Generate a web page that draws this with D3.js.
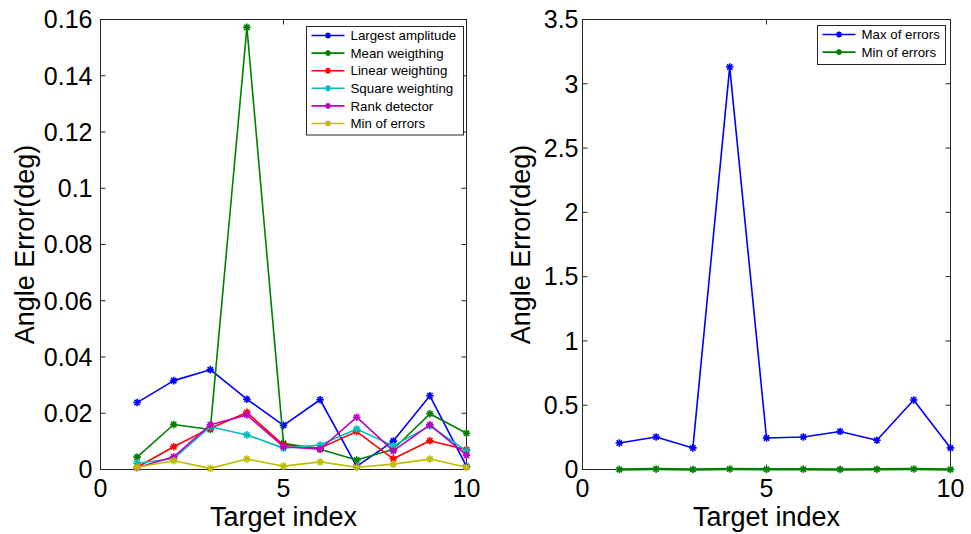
<!DOCTYPE html>
<html><head><meta charset="utf-8">
<script src="https://cdn.jsdelivr.net/npm/d3@7/dist/d3.min.js"></script>
<style>body{margin:0;background:#fff}svg{display:block}text{font-family:"Liberation Sans",Arial,sans-serif}</style>
</head><body>
<script>
const targetIndex = [1,2,3,4,5,6,7,8,9,10];
const largestAmplitude = [0.0238,0.0316,0.0355,0.0250,0.0157,0.0248,0.0011,0.0101,0.0262,0.0011];
const meanWeighting   = [0.0044,0.0160,0.0142,0.1572,0.0093,0.0072,0.0034,0.0072,0.0198,0.0129];
const linearWeighting = [0.0008,0.0081,0.0147,0.0203,0.0087,0.0076,0.0135,0.0038,0.0102,0.0070];
const squareWeighting = [0.0022,0.0039,0.0152,0.0123,0.0076,0.0087,0.0144,0.0084,0.0155,0.0066];
const rankDetector    = [0.0006,0.0045,0.0159,0.0194,0.0081,0.0072,0.0186,0.0066,0.0159,0.0051];
const minOfErrors     = [0.0008,0.0031,0.0004,0.0037,0.0012,0.0027,0.0008,0.0019,0.0037,0.0008];
const maxOfErrors     = [0.206,0.253,0.168,3.13,0.245,0.253,0.296,0.227,0.541,0.168];

const xTicks = [0,5,10];
const leftYTicks = [0,0.02,0.04,0.06,0.08,0.1,0.12,0.14,0.16];
const leftYTickLabels = ["0","0.02","0.04","0.06","0.08","0.1","0.12","0.14","0.16"];
const rightYTicks = [0,0.5,1,1.5,2,2.5,3,3.5];
const rightYTickLabels = ["0","0.5","1","1.5","2","2.5","3","3.5"];

const leftSeries = [
  {name:"Largest amplitude", values:largestAmplitude, color:"#0000ff"},
  {name:"Mean weigthing", values:meanWeighting, color:"#008000"},
  {name:"Linear weighting", values:linearWeighting, color:"#ff0000"},
  {name:"Square weighting", values:squareWeighting, color:"#00bfbf"},
  {name:"Rank detector", values:rankDetector, color:"#bf00bf"},
  {name:"Min of errors", values:minOfErrors, color:"#bfbf00"}
];
const rightSeries = [
  {name:"Max of errors", values:maxOfErrors, color:"#0000ff"},
  {name:"Min of errors", values:minOfErrors, color:"#008000"}
];

const W=971,H=534;
const svg=d3.select("body").append("svg").attr("width",W).attr("height",H);

function panel(cfg){
  const x=d3.scaleLinear().domain([0,10]).range([cfg.x0,cfg.x1]);
  const y=d3.scaleLinear().domain(cfg.yDomain).range([cfg.y1,cfg.y0]);
  const g=svg.append("g");
  const axisColor="#262626";
  g.append("rect").attr("x",cfg.x0).attr("y",cfg.y0).attr("width",cfg.x1-cfg.x0).attr("height",cfg.y1-cfg.y0)
    .attr("fill","none").attr("stroke",axisColor).attr("stroke-width",1);
  const tl=5;
  xTicks.forEach(t=>{
    g.append("line").attr("x1",x(t)).attr("x2",x(t)).attr("y1",cfg.y1).attr("y2",cfg.y1-tl).attr("stroke",axisColor);
    g.append("line").attr("x1",x(t)).attr("x2",x(t)).attr("y1",cfg.y0).attr("y2",cfg.y0+tl).attr("stroke",axisColor);
    g.append("text").attr("x",x(t)).attr("y",cfg.y1+27).attr("text-anchor","middle").attr("font-size",25).attr("fill","#000").text(t);
  });
  cfg.yTicks.forEach((t,i)=>{
    g.append("line").attr("x1",cfg.x0).attr("x2",cfg.x0+tl).attr("y1",y(t)).attr("y2",y(t)).attr("stroke",axisColor);
    g.append("line").attr("x1",cfg.x1).attr("x2",cfg.x1-tl).attr("y1",y(t)).attr("y2",y(t)).attr("stroke",axisColor);
    g.append("text").attr("x",cfg.x0-cfg.labelGap).attr("y",y(t)).attr("dy","0.35em").attr("text-anchor","end").attr("font-size",25).attr("fill","#000").text(cfg.yLabels[i]);
  });
  g.append("text").attr("x",(cfg.x0+cfg.x1)/2).attr("y",526).attr("text-anchor","middle").attr("font-size",27).text("Target index");
  g.append("text").attr("transform",`translate(${cfg.yLabelX},${(cfg.y0+cfg.y1)/2}) rotate(-90)`).attr("text-anchor","middle").attr("font-size",27).text("Angle Error(deg)");

  const line=d3.line().x((d,i)=>x(targetIndex[i])).y(d=>y(d));
  cfg.series.forEach(s=>{
    g.append("path").attr("d",line(s.values)).attr("fill","none").attr("stroke",s.color).attr("stroke-width",s.sw||1.6).attr("stroke-linejoin","round");
    s.values.forEach((v,i)=>star(g,x(targetIndex[i]),y(v),s.color));
  });
  const L=cfg.legend;
  const lg=g.append("g");
  lg.append("rect").attr("x",L.x).attr("y",L.y).attr("width",L.w).attr("height",L.h).attr("fill","#fff").attr("stroke",axisColor);
  cfg.series.forEach((s,i)=>{
    const cy=L.y+9+i*17.6;
    lg.append("line").attr("x1",L.x+5).attr("x2",L.x+38).attr("y1",cy).attr("y2",cy).attr("stroke",s.color).attr("stroke-width",1.6);
    star(lg,L.x+21.5,cy,s.color,3);
    lg.append("text").attr("x",L.x+44).attr("y",cy).attr("dy","0.36em").attr("font-size",13.3).attr("fill","#000").text(s.name);
  });
}
function star(g,cx,cy,color,r){
  r=r||3.8;
  const d=r*0.707;
  const p=`M${cx-r},${cy}L${cx+r},${cy}M${cx},${cy-r}L${cx},${cy+r}M${cx-d},${cy-d}L${cx+d},${cy+d}M${cx-d},${cy+d}L${cx+d},${cy-d}`;
  g.append("path").attr("d",p).attr("stroke",color).attr("stroke-width",1.6).attr("fill","none");
}

panel({x0:100.5,x1:466.5,y0:19.5,y1:469.5,yDomain:[0,0.16],yTicks:leftYTicks,yLabels:leftYTickLabels,labelGap:8,yLabelX:34,
  series:leftSeries,legend:{x:306.5,y:26.5,w:157,h:108.5}});
panel({x0:582.5,x1:950.5,y0:19.5,y1:469.5,yDomain:[0,3.5],yTicks:rightYTicks,yLabels:rightYTickLabels,labelGap:4,yLabelX:530,
  series:rightSeries.map((s,i)=>i==1?Object.assign({},s,{sw:2.5}):s),legend:{x:817.5,y:25.5,w:128,h:39}});
</script>
</body></html>
